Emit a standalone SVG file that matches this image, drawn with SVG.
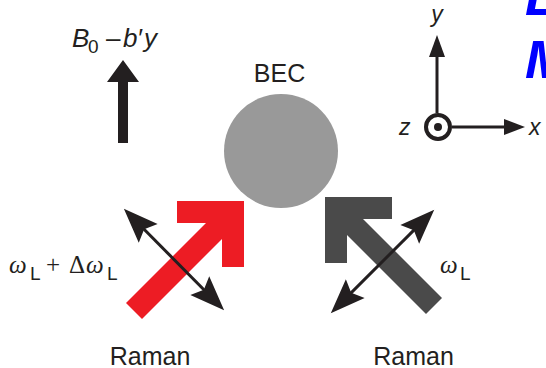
<svg xmlns="http://www.w3.org/2000/svg" width="546" height="368" viewBox="0 0 546 368">
<style>
.sans{font-family:"Liberation Sans",Arial,sans-serif;fill:#231f20}
.ser{font-family:"Liberation Serif","Times New Roman",serif;fill:#231f20}
.it{font-style:italic}
.pol{stroke:#231f20;stroke-width:3;fill:none}
.ax{stroke:#231f20;stroke-width:3;fill:none}
</style>
<defs>
<marker id="pa" markerUnits="userSpaceOnUse" markerWidth="40" markerHeight="30" viewBox="-12 -13 34 26" refX="0" refY="0" orient="auto-start-reverse">
<path d="M20,0 L-10,-11.5 L-5,0 L-10,11.5 Z" fill="#231f20"/>
</marker>
</defs>
<rect width="546" height="368" fill="#ffffff"/>

<g id="blue-title">
<text x="525" y="15" font-family="Liberation Sans, Arial, sans-serif" font-size="54" font-weight="bold" font-style="italic" fill="#0000ff">L</text>
<text x="525" y="78" font-family="Liberation Sans, Arial, sans-serif" font-size="54" font-weight="bold" font-style="italic" fill="#0000ff">M</text>
</g>

<g id="field">
<polygon points="123,60 139,82 128,82 128,143 118,143 118,82 107,82" fill="#231f20"/>
<text class="sans it" x="72" y="47" font-size="26">B</text>
<text class="sans" x="88" y="53" font-size="19">0</text>
<text class="sans" x="106" y="47" font-size="26">–</text>
<text class="sans it" x="123" y="47" font-size="26">b</text>
<text class="sans it" x="137" y="47" font-size="26">′</text>
<text class="sans it" x="144" y="47" font-size="26">y</text>
</g>

<g id="bec">
<circle cx="281" cy="151" r="57" fill="#999999"/>
<text class="sans" x="279.5" y="82" font-size="25" text-anchor="middle">BEC</text>
</g>

<g id="axes">
<line class="ax" x1="437" y1="113" x2="437" y2="55"/>
<polygon points="437,35 445,57 429,57" fill="#231f20"/>
<line class="ax" x1="452" y1="127" x2="507" y2="127"/>
<polygon points="525,127 504,135 504,119" fill="#231f20"/>
<circle cx="438" cy="127" r="12" fill="#ffffff" stroke="#231f20" stroke-width="4"/>
<circle cx="438" cy="127" r="4" fill="#231f20"/>
<text class="sans it" x="437" y="22" font-size="23" text-anchor="middle">y</text>
<text class="sans it" x="529" y="135" font-size="23">x</text>
<text class="sans it" x="399" y="135" font-size="23">z</text>
</g>

<g id="raman-left">
<polygon points="126,303 206,223 177,223 177,201 244,201 244,267 222,267 222,239 142,319" fill="#ed1c24"/>
<text class="ser it" x="9" y="273" font-size="25">ω</text>
<text class="sans" x="30" y="280" font-size="19">L</text>
<text class="ser" x="46" y="273" font-size="25">+</text>
<text class="ser" x="69" y="273" font-size="25">Δ</text>
<text class="ser it" x="86" y="273" font-size="25">ω</text>
<text class="sans" x="107" y="280" font-size="19">L</text>
<text class="sans" x="150" y="365" font-size="25" text-anchor="middle">Raman</text>
</g>

<g id="raman-right">
<polygon points="325,197 392,197 392,219 363,219 442,298 426,314 347,235 347,263 325,263" fill="#4a4a4a"/>
<text class="ser it" x="440" y="273" font-size="25">ω</text>
<text class="sans" x="460" y="280" font-size="19">L</text>
<text class="sans" x="413.5" y="365" font-size="25" text-anchor="middle">Raman</text>
</g>

<g id="connectors">
<line class="pol" x1="140.1" y1="225.2" x2="207.9" y2="293.8" marker-start="url(#pa)" marker-end="url(#pa)"/>
<line class="pol" x1="417.9" y1="226.1" x2="347.1" y2="296.9" marker-start="url(#pa)" marker-end="url(#pa)"/>
</g>
</svg>
